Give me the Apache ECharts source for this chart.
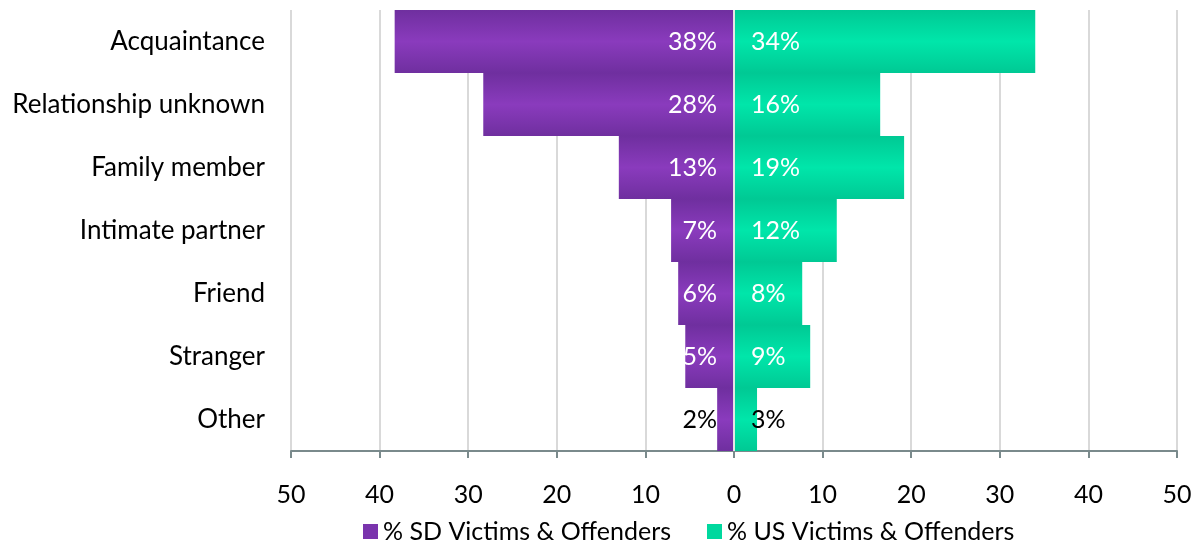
<!DOCTYPE html>
<html><head><meta charset="utf-8">
<script src="https://cdn.jsdelivr.net/npm/echarts@6/dist/echarts.min.js"></script>
<style>html,body{margin:0;padding:0;background:#fff}#c{width:1196px;height:544px}</style>
</head><body><div id="c"></div>
<script>
const categories = ["Acquaintance","Relationship unknown","Family member","Intimate partner","Friend","Stranger","Other"];
const sdValues = [38.3, 28.3, 13.0, 7.1, 6.3, 5.5, 1.9];
const usValues = [34.0, 16.5, 19.2, 11.6, 7.7, 8.6, 2.6];
const sdLabels = ["38%","28%","13%","7%","6%","5%","2%"];
const usLabels = ["34%","16%","19%","12%","8%","9%","3%"];

const FONT = "Lato, 'Open Sans', sans-serif";
function grad(dark, light){
  return new echarts.graphic.LinearGradient(0,0,0,1,[{offset:0,color:dark},{offset:0.5,color:light},{offset:1,color:dark}]);
}
const purple = grad('#6f2f9f','#8a3bbd');
const green = grad('#00c994','#00e6aa');

function mkData(vals, labels, sign){
  return vals.map((v,i)=>{
    const last = i === vals.length-1;
    return {value: sign*v, label:{formatter: labels[i], color: last ? '#000' : '#fff', fontSize:25, fontFamily:FONT}};
  });
}

const chart = echarts.init(document.getElementById('c'));
chart.setOption({
  animation:false,
  grid:{left:291,right:19,top:10,bottom:93,containLabel:false},
  legend:{
    top:514,left:358,itemWidth:15,itemHeight:15,itemGap:36,icon:'rect',
    textStyle:{fontFamily:FONT,fontSize:25,color:'#000'},
    data:[{name:'% SD Victims & Offenders',itemStyle:{color:'#7a34ad'}},{name:'% US Victims & Offenders',itemStyle:{color:'#00d89e'}}]
  },
  xAxis:{
    type:'value',min:-50,max:50,interval:10,
    axisLine:{show:true,lineStyle:{color:'#7a8a8c',width:2}},
    axisTick:{show:true,length:7,lineStyle:{color:'#7a8a8c',width:2}},
    splitLine:{show:true,lineStyle:{color:'#d9d9d9',width:2}},
    axisLabel:{fontFamily:FONT,fontSize:25,color:'#000',margin:31,formatter:v=>String(Math.abs(v))}
  },
  yAxis:{
    type:'category',data:categories,inverse:true,
    axisLine:{show:false},axisTick:{show:false},
    axisLabel:{fontFamily:FONT,fontSize:26,color:'#000',margin:26}
  },
  series:[
    {name:'% SD Victims & Offenders',type:'bar',stack:'a',barCategoryGap:'0%',barWidth:'100%',
     itemStyle:{color:purple},
     label:{show:true,position:'insideRight',distance:17},
     data:mkData(sdValues,sdLabels,-1),
     markLine:{silent:true,symbol:'none',label:{show:false},lineStyle:{color:'#e6e6e6',width:2,type:'solid'},data:[{xAxis:0}],z:10}
    },
    {name:'% US Victims & Offenders',type:'bar',stack:'a',barCategoryGap:'0%',barWidth:'100%',
     itemStyle:{color:green},
     label:{show:true,position:'insideLeft',distance:17},
     data:mkData(usValues,usLabels,1)
    }
  ]
});
</script></body></html>
